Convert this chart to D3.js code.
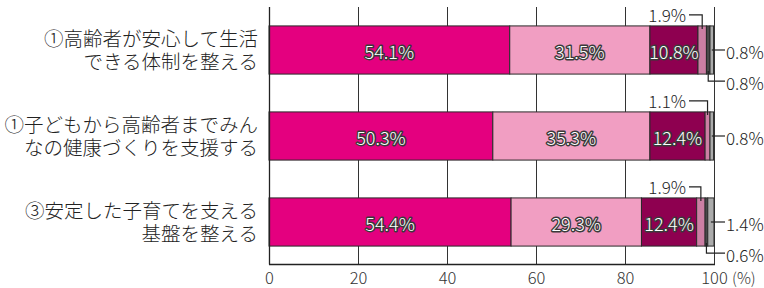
<!DOCTYPE html>
<html><head><meta charset="utf-8">
<script src="https://cdn.jsdelivr.net/npm/d3@7"></script>
<style>
html,body{margin:0;padding:0;background:#fff;}
svg{display:block;font-family:"Noto Sans CJK JP","Noto Sans",sans-serif;font-weight:300;}
</style></head>
<body><svg id="c" width="764" height="288"></svg>
<script>
const categories = [
  ["①高齢者が安心して生活", "できる体制を整える"],
  ["①子どもから高齢者までみん", "なの健康づくりを支援する"],
  ["③安定した子育てを支える", "基盤を整える"]
];
const s1 = [54.1, 50.3, 54.4];
const s2 = [31.5, 35.3, 29.3];
const s3 = [10.8, 12.4, 12.4];
const s4 = [1.9, 1.1, 1.9];
const s5 = [0.8, 0, 0.6];
const s6 = [0.8, 0.8, 1.4];
const tickValues = [0, 20, 40, 60, 80, 100];
const seriesColors = ["#E4007F", "#F19EC2", "#8E0050", "#CC7FA4", "#4a4a4a", "#ABABAB"];

const series = [s1, s2, s3, s4, s5, s6];
const svg = d3.select("#c");
const x = d3.scaleLinear().domain([0, 100]).range([269, 714]);
const y = d3.scaleBand().domain(d3.range(categories.length)).range([7, 265])
  .paddingInner(0.44).paddingOuter(0.22);
const yTop = 7, yBottom = 264;

// gridlines
svg.append("g").selectAll("line").data(tickValues).join("line")
  .attr("x1", d => x(d) + 0.5).attr("x2", d => x(d) + 0.5)
  .attr("y1", yTop).attr("y2", yBottom)
  .attr("stroke", "#333").attr("stroke-width", 1);

// bars
const rows = categories.map((c, i) => {
  let acc = 0;
  return series.map((s, k) => {
    const r = {i, k, v: s[i], x0: acc, x1: acc + s[i]};
    acc += s[i];
    return r;
  });
});
const segs = rows.flat().filter(d => d.v > 0);
svg.append("g").selectAll("rect").data(segs).join("rect")
  .attr("x", d => x(d.x0)).attr("width", d => x(d.x1) - x(d.x0))
  .attr("y", d => y(d.i)).attr("height", y.bandwidth())
  .attr("fill", d => seriesColors[d.k])
  .attr("stroke", "#2a2a2a").attr("stroke-width", 1);

// axes lines
svg.append("line").attr("x1", x(0) + 0.5).attr("x2", x(0) + 0.5).attr("y1", yTop).attr("y2", yBottom + 0.5)
  .attr("stroke", "#222").attr("stroke-width", 1.3);
svg.append("line").attr("x1", x(0)).attr("x2", x(100) + 1).attr("y1", yBottom + 0.5).attr("y2", yBottom + 0.5)
  .attr("stroke", "#222").attr("stroke-width", 1.3);

// tick labels
svg.append("g").selectAll("text").data(tickValues).join("text")
  .attr("x", d => x(d) + 0.5).attr("y", 277)
  .attr("text-anchor", "middle").attr("dominant-baseline", "central")
  .attr("font-size", 16.5).attr("fill", "#333").text(d => d);
svg.append("text").attr("x", x(100) + 18).attr("y", 277)
  .attr("dominant-baseline", "central").attr("font-size", 15.5).attr("fill", "#333").text("(%)");

// category labels (one text element per category, two lines)
const cat = svg.append("g");
categories.forEach((lines, i) => {
  const cy = y(i) + y.bandwidth() / 2;
  const t = cat.append("text").attr("text-anchor", "end")
    .attr("font-size", 19.5).attr("fill", "#222");
  lines.forEach((s, j) => {
    t.append("tspan").attr("x", 258).attr("y", cy + (j === 0 ? -12.5 : 10.5))
      .attr("dominant-baseline", "central").text(s);
  });
});

// inside labels
svg.append("g").selectAll("text").data(segs.filter(d => d.k < 3)).join("text")
  .attr("x", d => (x(d.x0) + x(d.x1)) / 2)
  .attr("y", d => y(d.i) + y.bandwidth() / 2 + 1)
  .attr("text-anchor", "middle").attr("dominant-baseline", "central")
  .attr("font-size", 18).attr("fill", "#fff")
  .attr("stroke", "#3a3a3a").attr("stroke-width", 2.8).attr("paint-order", "stroke")
  .attr("stroke-linejoin", "round")
  .text(d => d.v.toFixed(1) + "%");

// outside labels with leader lines
const ann = svg.append("g");
const lineAttr = sel => sel.attr("fill", "none").attr("stroke", "#222").attr("stroke-width", 1.2);
const fs = 17;
rows.forEach((r, i) => {
  const yt = y(i), yb = y(i) + y.bandwidth(), yc = yt + y.bandwidth() / 2;
  const a = r[3];
  if (a.v > 0) {
    const cx = (x(a.x0) + x(a.x1)) / 2;
    const ly = yt - 11;
    ann.append("path").attr("d", `M${689},${ly}H${cx}V${yt + 3}`).call(lineAttr);
    ann.append("text").attr("x", 686).attr("y", ly).attr("text-anchor", "end")
      .attr("dominant-baseline", "central").attr("font-size", fs).attr("fill", "#222")
      .text(a.v.toFixed(1) + "%");
  }
  const c = r[5];
  if (c.v > 0) {
    const cx = (x(c.x0) + x(c.x1)) / 2;
    ann.append("path").attr("d", `M${cx},${yc}H${725}`).call(lineAttr);
    ann.append("text").attr("x", 726).attr("y", yc + 1)
      .attr("dominant-baseline", "central").attr("font-size", fs).attr("fill", "#222")
      .text(c.v.toFixed(1) + "%");
  }
  const b = r[4];
  if (b.v > 0) {
    const cx = (x(b.x0) + x(b.x1)) / 2;
    const ly = yb + 7;
    ann.append("path").attr("d", `M${cx},${yb - 3}V${ly}H${725}`).call(lineAttr);
    ann.append("text").attr("x", 726).attr("y", ly + 1)
      .attr("dominant-baseline", "central").attr("font-size", fs).attr("fill", "#222")
      .text(b.v.toFixed(1) + "%");
  }
});
</script></body></html>
